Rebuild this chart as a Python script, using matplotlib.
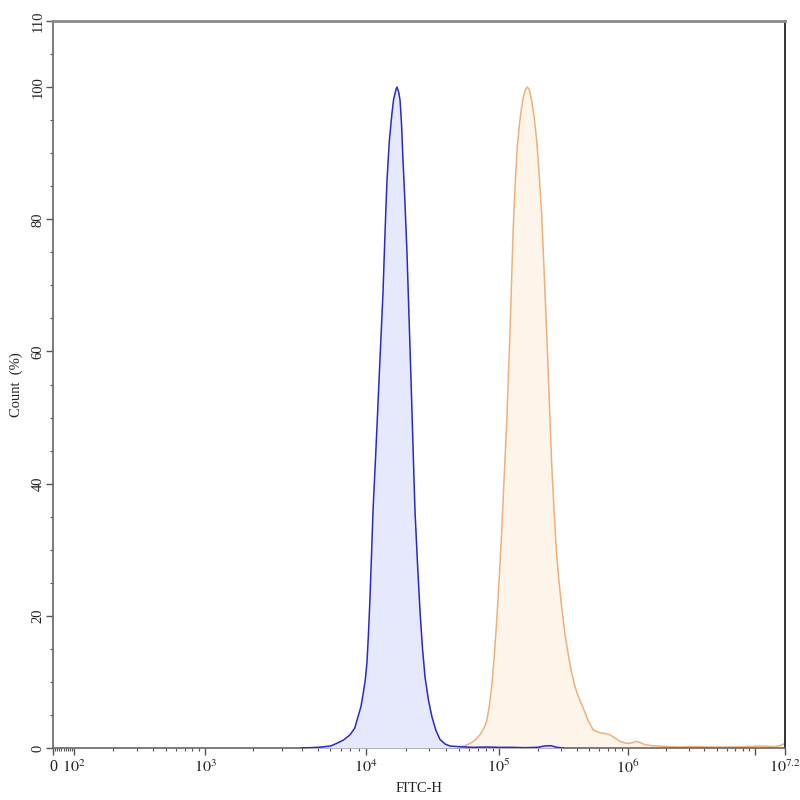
import numpy as np
import matplotlib
matplotlib.use("Agg")
import matplotlib.pyplot as plt
from matplotlib.ticker import FixedLocator, FixedFormatter

# ---------------- data (log10 FITC-H, Count %) ----------------
blue_log = [3.60, 3.70, 3.78, 3.818, 3.86, 3.901, 3.93, 3.950, 3.968, 3.981, 3.995, 4.0075,
            4.019, 4.030, 4.042, 4.053, 4.072, 4.090, 4.110, 4.128, 4.143, 4.158, 4.176,
            4.195, 4.208, 4.218, 4.226, 4.233, 4.245, 4.256, 4.267, 4.278, 4.293, 4.308,
            4.323, 4.338, 4.353, 4.368, 4.387, 4.406, 4.425, 4.444, 4.470, 4.496, 4.525,
            4.556, 4.595, 4.632, 4.70, 4.80, 4.90, 5.00, 5.10, 5.20, 5.30, 5.35, 5.40,
            5.45, 5.50]
blue_cnt = [0, 0.1, 0.3, 0.7, 1.2, 2, 3, 4.7, 6.2, 8, 10.2, 13,
            17.5, 22.7, 29.5, 36, 44, 52, 61, 69, 78, 86, 92,
            96, 98.2, 99, 99.7, 100, 99.3, 98, 94.5, 89, 82.5, 75,
            65.5, 56, 46, 36, 28, 20.7, 15, 10.7, 7.2, 4.7, 2.7,
            1.3, 0.6, 0.3, 0.2, 0.1, 0.15, 0.1, 0.1, 0.05, 0.1, 0.3, 0.35,
            0.1, 0]

orange_log = [4.33, 4.40, 4.45, 4.50, 4.556, 4.684, 4.74, 4.782, 4.82, 4.857, 4.885,
              4.907, 4.927, 4.945, 4.964, 4.983, 5.002, 5.021, 5.040, 5.060, 5.072,
              5.085, 5.098, 5.111, 5.126, 5.142, 5.159, 5.176, 5.190, 5.200, 5.210,
              5.219, 5.228, 5.236, 5.253, 5.272, 5.292, 5.311, 5.331, 5.350, 5.370,
              5.390, 5.409, 5.428, 5.447, 5.466, 5.486, 5.511, 5.538, 5.563, 5.589,
              5.620, 5.654, 5.690, 5.731, 5.783, 5.820, 5.860, 5.900, 5.938, 5.970,
              6.0, 6.035, 6.071, 6.100, 6.134, 6.190, 6.252, 6.330, 6.409, 6.490,
              6.567, 6.680, 6.803, 6.920, 7.033, 7.133, 7.170, 7.2]
orange_cnt = [0, 0.2, 0.15, 0.05, 0.1, 0.1, 0.3, 0.7, 1.2, 2, 2.9,
              4, 6.3, 9.3, 13.8, 19.3, 25.8, 32.7, 41, 49.3, 56,
              62.7, 71, 79, 85.5, 91, 94.5, 97, 98.6, 99.3, 99.8,
              100, 99.8, 99.5, 98, 95.5, 92, 87, 80.7, 72, 62.7,
              52.5, 42.7, 35.5, 29.3, 25, 21.3, 17.3, 14, 11.4, 9.3,
              7.5, 6, 4.2, 2.7, 2.3, 2.2, 2, 1.5, 1, 0.8,
              0.7, 0.8, 1, 0.8, 0.5, 0.35, 0.3, 0.2, 0.15, 0.2,
              0.2, 0.15, 0.15, 0.2, 0.3, 0.2, 0.4, 0.7]

y_ticks = [0, 20, 40, 60, 80, 100, 110]
x_tick_labels = ['0', r'$10^{2}$', r'$10^{3}$', r'$10^{4}$', r'$10^{5}$', r'$10^{6}$', '', r'$10^{7.2}$']

# ---------------- axis transform (cytometry-like display scale) ----------------
_t_anchor = np.array([0.0, 2.0, 3.0, 4.0, 5.0, 6.0, 7.0, 7.2])
_p_anchor = np.array([0.0, 21.0, 152.0, 313.0, 446.0, 575.0, 702.0, 732.0])

def _to_t(x):
    x = np.asarray(x, dtype=float)
    with np.errstate(divide='ignore', invalid='ignore'):
        lg = np.log10(np.where(x > 100, x, 100.0))
    return np.where(x > 100, lg, x / 50.0)

def fwd(x):
    return np.interp(_to_t(x), _t_anchor, _p_anchor, left=-1e3, right=1e4)

def inv(p):
    t = np.interp(np.asarray(p, dtype=float), _p_anchor, _t_anchor)
    return np.where(t >= 2, 10.0 ** t, t * 50.0)

plt.rcParams['font.family'] = ['Liberation Serif', 'DejaVu Serif']
plt.rcParams['mathtext.fontset'] = 'stix'

fig = plt.figure(figsize=(8, 8), dpi=100)
ax = fig.add_axes([53/800, 1 - 748/800, (785-53)/800, (748-21)/800])
ax.set_xscale('function', functions=(fwd, inv))

bx = 10.0 ** np.array(blue_log)
ox = 10.0 ** np.array(orange_log)
ax.fill_between(ox, orange_cnt, 0, color='#fdf4ea', lw=0, zorder=1)
ax.plot(ox, orange_cnt, color='#eeb07c', lw=1.1, zorder=2)
ax.fill_between(bx, blue_cnt, 0, color='#e6e8fb', lw=0, zorder=3)
ax.plot(bx, blue_cnt, color='#2a2ac4', lw=1.1, zorder=4)

ax.set_xlim(0, 10 ** 7.2)
ax.set_ylim(0, 110)

major_x = [0, 1e2, 1e3, 1e4, 1e5, 1e6, 1e7, 10 ** 7.2]
ax.xaxis.set_major_locator(FixedLocator(major_x))
ax.xaxis.set_major_formatter(FixedFormatter(x_tick_labels))
minor_x = [v * 10 for v in range(1, 10)]
for d in range(2, 7):
    minor_x += [m * 10 ** d for m in range(2, 10)]
minor_x += [2e7]
ax.xaxis.set_minor_locator(FixedLocator(minor_x))

ax.yaxis.set_major_locator(FixedLocator(y_ticks))
ax.yaxis.set_minor_locator(FixedLocator([v for v in range(5, 110, 5) if v not in y_ticks]))

ax.tick_params(axis='both', which='major', direction='out', length=5, width=1,
               color='#555555', labelcolor='#222222')
ax.tick_params(axis='x', which='major', labelsize=11.5, pad=3)
ax.tick_params(axis='y', which='major', labelsize=10.5, pad=1)
ax.tick_params(axis='both', which='minor', direction='out', length=2.5, width=0.8,
               color='#555555')

for lab in ax.get_yticklabels():
    lab.set_rotation(90)
    lab.set_va('center')

for s in ['left', 'bottom']:
    ax.spines[s].set_color('#666666')
    ax.spines[s].set_linewidth(1.2)
ax.spines['top'].set_color('#8a8a8a')
ax.spines['top'].set_linewidth(2)
ax.spines['right'].set_color('#111111')
ax.spines['right'].set_linewidth(1.2)

ax.set_xlabel('FITC-H', fontsize=10.5, color='#222222', labelpad=4)
ax.set_ylabel('Count  (%)', fontsize=10.5, color='#222222')
ax.yaxis.set_label_coords((16 - 53) / 732, 0.5)
ax.yaxis.label.set_va('center')

fig.savefig('out.png', dpi=100)
